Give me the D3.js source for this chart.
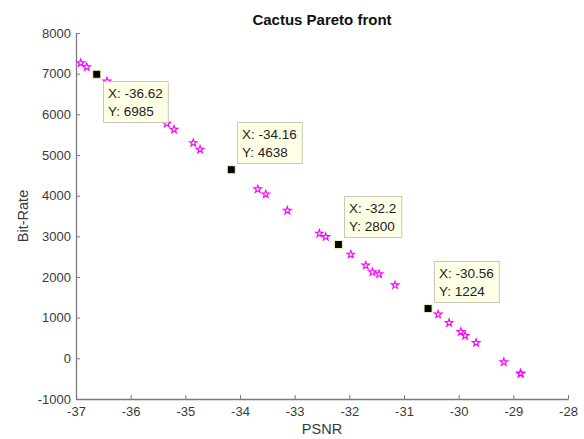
<!DOCTYPE html>
<html>
<head>
<meta charset="utf-8">
<script src="https://cdn.jsdelivr.net/npm/d3@7"></script>
<style>
  body { margin: 0; background: #fff; }
  text { font-family: "Liberation Sans", Arial, Helvetica, sans-serif; }
</style>
</head>
<body>
<div id="chart"></div>
<script>
// pareto front points (PSNR, bit-rate)
const psnr = [-36.914, -36.804, -36.433, -35.34, -35.207, -34.854, -34.731,
  -33.675, -33.529, -33.134, -32.548, -32.431, -31.973, -31.699, -31.578,
  -31.456, -31.163, -30.376, -30.175, -29.961, -29.882, -29.681, -29.174,
  -28.87, -28.865];
const bitRate = [7263, 7165, 6813, 5774, 5627, 5297, 5135,
  4160, 4037, 3636, 3071, 2988, 2555, 2285, 2120,
  2071, 1801, 1081, 875, 654, 555, 383, -91,
  -378, -370];

// data tips
const tipX = [-36.62, -34.16, -32.2, -30.56];
const tipY = [6985, 4638, 2800, 1224];
const tipLabelX = ["-36.62", "-34.16", "-32.2", "-30.56"];
const tipBelow = [true, false, false, false];

const xTicks = [-37, -36, -35, -34, -33, -32, -31, -30, -29, -28];
const yTicks = [-1000, 0, 1000, 2000, 3000, 4000, 5000, 6000, 7000, 8000];

const W = 584, H = 439;
const margin = { top: 33, right: 16, bottom: 40, left: 76 };

const svg = d3.select("#chart").append("svg")
  .attr("width", W)
  .attr("height", H);

const x = d3.scaleLinear().domain([-37, -28]).range([margin.left, W - margin.right]);
const y = d3.scaleLinear().domain([-1000, 8000]).range([H - margin.bottom, margin.top]);

const axisCol = "#7a7a7a";
const labelCol = "#3a3a3a";
const plain = d => String(d);

// axes, ticks point inward like matlab
const gx = svg.append("g")
  .attr("transform", "translate(0," + (H - margin.bottom) + ")")
  .call(d3.axisBottom(x).tickValues(xTicks).tickFormat(plain)
    .tickSizeInner(-4).tickSizeOuter(0).tickPadding(8));

const gy = svg.append("g")
  .attr("transform", "translate(" + margin.left + ",0)")
  .call(d3.axisLeft(y).tickValues(yTicks).tickFormat(plain)
    .tickSizeInner(-4).tickSizeOuter(0).tickPadding(5));

[gx, gy].forEach(g => {
  g.select(".domain").attr("stroke", axisCol).attr("stroke-width", 1.3);
  g.selectAll(".tick line").attr("stroke", axisCol);
  g.selectAll(".tick text").attr("fill", labelCol).style("font-size", "13px");
});

svg.append("text")
  .attr("x", (x.range()[0] + x.range()[1]) / 2)
  .attr("y", 25)
  .attr("text-anchor", "middle")
  .style("font-size", "15px")
  .style("font-weight", "bold")
  .attr("fill", "#111")
  .text("Cactus Pareto front");

svg.append("text")
  .attr("x", (x.range()[0] + x.range()[1]) / 2)
  .attr("y", 434)
  .attr("text-anchor", "middle")
  .style("font-size", "14.5px")
  .attr("fill", labelCol)
  .text("PSNR");

svg.append("text")
  .attr("transform", "translate(28," + ((y.range()[0] + y.range()[1]) / 2) + ") rotate(-90)")
  .attr("text-anchor", "middle")
  .style("font-size", "14.5px")
  .attr("fill", labelCol)
  .text("Bit-Rate");

// stars
const star = d3.symbol().type(d3.symbolStar).size(18);
svg.append("g")
  .selectAll("path")
  .data(psnr)
  .join("path")
  .attr("d", star)
  .attr("transform", (d, i) => "translate(" + x(d) + "," + y(bitRate[i]) + ")")
  .attr("fill", "none")
  .attr("stroke", "#ff00ff")
  .attr("stroke-width", 1.1);

// data tip markers and boxes
const tips = svg.append("g");
tipX.forEach((tx, i) => {
  const px = x(tx), py = y(tipY[i]);
  tips.append("rect")
    .attr("x", px - 4).attr("y", py - 4)
    .attr("width", 8).attr("height", 8)
    .attr("fill", "#000")
    .attr("stroke", "#f4f0c0")
    .attr("stroke-width", 1);

  const g = tips.append("g");
  const box = g.append("rect")
    .attr("fill", "#ffffe6")
    .attr("stroke", "#c8c8b8")
    .attr("stroke-width", 1);
  const t1 = g.append("text").attr("x", 5).attr("y", 17)
    .style("font-size", "13.5px").attr("fill", "#222")
    .text("X: " + tipLabelX[i]);
  const t2 = g.append("text").attr("x", 5).attr("y", 34.5)
    .style("font-size", "13.5px").attr("fill", "#222")
    .text("Y: " + tipY[i]);
  const bw = Math.max(t1.node().getComputedTextLength(), t2.node().getComputedTextLength()) + 10;
  const bh = 41;
  box.attr("x", 0.5).attr("y", 0.5).attr("width", bw).attr("height", bh);
  const left = Math.round(px + 6);
  const top = tipBelow[i] ? Math.round(py + 7) : Math.round(py - 7 - bh);
  g.attr("transform", "translate(" + left + "," + top + ")");
});
</script>
</body>
</html>
